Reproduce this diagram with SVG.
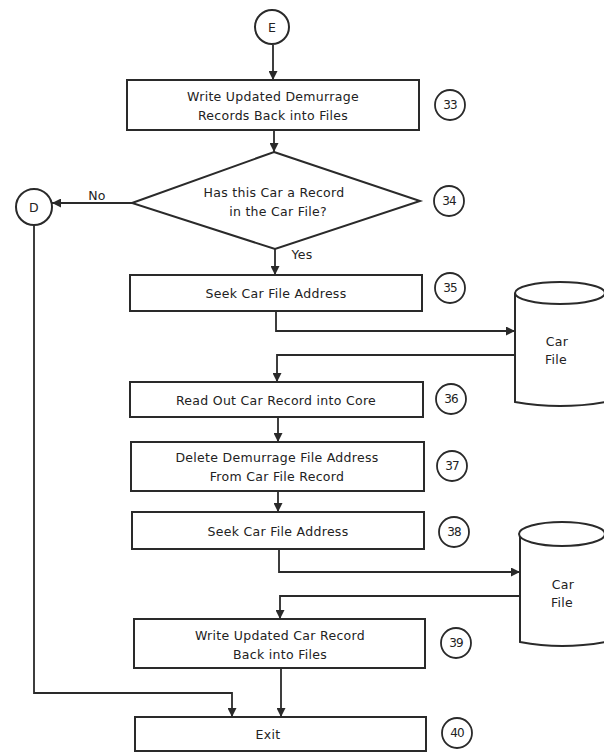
<svg xmlns="http://www.w3.org/2000/svg" width="604" height="753" viewBox="0 0 604 753">
<defs>
<marker id="ah" viewBox="0 0 10 10" refX="10" refY="5" markerWidth="9" markerHeight="9" markerUnits="userSpaceOnUse" orient="auto">
<path d="M0,0 L10,5 L0,10 Z" fill="#2a2a2a"/>
</marker>
<style>
.b{fill:#fff;stroke:#2a2a2a;stroke-width:2}
.c{fill:none;stroke:#2a2a2a;stroke-width:1.8}
.t{font-family:"DejaVu Sans","Liberation Sans",Arial,sans-serif;font-size:12.5px;fill:#222;text-anchor:middle;letter-spacing:0.3px}
.n{font-family:"DejaVu Sans","Liberation Sans",Arial,sans-serif;font-size:12px;fill:#222;text-anchor:middle;letter-spacing:-1px}
.l{stroke:#2a2a2a;stroke-width:1.8;fill:none}
</style>
</defs>
<rect width="604" height="753" fill="#fff"/>
<g id="connectors">
<path class="l" d="M273,45 V80" marker-end="url(#ah)"/>
<path class="l" d="M274,130 V152" marker-end="url(#ah)"/>
<path class="l" d="M132,203 H52" marker-end="url(#ah)"/>
<path class="l" d="M275,249 V275" marker-end="url(#ah)"/>
<path class="l" d="M276,311 V331 H515" marker-end="url(#ah)"/>
<path class="l" d="M515,355 H277 V382" marker-end="url(#ah)"/>
<path class="l" d="M278,417 V442" marker-end="url(#ah)"/>
<path class="l" d="M278,491 V512" marker-end="url(#ah)"/>
<path class="l" d="M279,549 V572 H520" marker-end="url(#ah)"/>
<path class="l" d="M520,596 H280 V619" marker-end="url(#ah)"/>
<path class="l" d="M281,668 V717" marker-end="url(#ah)"/>
<path class="l" d="M34,225 V693 H232 V717" marker-end="url(#ah)"/>
<text class="t" x="97" y="200">No</text>
<text class="t" x="302" y="259">Yes</text>
</g>
<g id="nodeE"><circle class="b" cx="272" cy="27" r="17"/><text class="t" x="272" y="32">E</text></g>
<g id="node33"><rect class="b" x="127" y="80" width="292" height="50"/><text class="t" x="273" y="101">Write Updated Demurrage</text><text class="t" x="273" y="120">Records Back into Files</text></g>
<g id="step33"><circle class="c" cx="450" cy="105" r="15"/><text class="n" x="450" y="109">33</text></g>
<g id="node34"><polygon class="b" points="274,152 420,201 275,249 132,203"/><text class="t" x="274" y="197">Has this Car a Record</text><text class="t" x="278" y="216">in the Car File?</text></g>
<g id="step34"><circle class="c" cx="449" cy="201" r="15"/><text class="n" x="449" y="205">34</text></g>
<g id="nodeD"><circle class="b" cx="34" cy="207" r="18"/><text class="t" x="34" y="212">D</text></g>
<g id="node35"><rect class="b" x="130" y="275" width="292" height="36"/><text class="t" x="276" y="298">Seek Car File Address</text></g>
<g id="step35"><circle class="c" cx="450" cy="288" r="15"/><text class="n" x="450" y="292">35</text></g>
<g id="file1"><path class="b" d="M515,293 V402 Q560,410 605,402 V293"/><ellipse class="b" cx="560" cy="293" rx="45" ry="11"/><text class="t" x="557" y="346">Car</text><text class="t" x="556" y="364">File</text></g>
<g id="node36"><rect class="b" x="130" y="382" width="293" height="35"/><text class="t" x="276" y="405">Read Out Car Record into Core</text></g>
<g id="step36"><circle class="c" cx="451" cy="399" r="15"/><text class="n" x="451" y="403">36</text></g>
<g id="node37"><rect class="b" x="131" y="442" width="293" height="49"/><text class="t" x="277" y="462">Delete Demurrage File Address</text><text class="t" x="277" y="481">From Car File Record</text></g>
<g id="step37"><circle class="c" cx="452" cy="466" r="15"/><text class="n" x="452" y="470">37</text></g>
<g id="node38"><rect class="b" x="132" y="512" width="292" height="37"/><text class="t" x="278" y="536">Seek Car File Address</text></g>
<g id="step38"><circle class="c" cx="454" cy="532" r="15"/><text class="n" x="454" y="536">38</text></g>
<g id="file2"><path class="b" d="M520,534 V642 Q562,650 605,642 V534"/><ellipse class="b" cx="562" cy="534" rx="43" ry="12"/><text class="t" x="563" y="589">Car</text><text class="t" x="562" y="607">File</text></g>
<g id="node39"><rect class="b" x="134" y="619" width="291" height="49"/><text class="t" x="280" y="640">Write Updated Car Record</text><text class="t" x="280" y="659">Back into Files</text></g>
<g id="step39"><circle class="c" cx="456" cy="643" r="15"/><text class="n" x="456" y="647">39</text></g>
<g id="node40"><rect class="b" x="135" y="717" width="291" height="34"/><text class="t" x="268" y="739">Exit</text></g>
<g id="step40"><circle class="c" cx="457" cy="733" r="15"/><text class="n" x="457" y="737">40</text></g>
</svg>
